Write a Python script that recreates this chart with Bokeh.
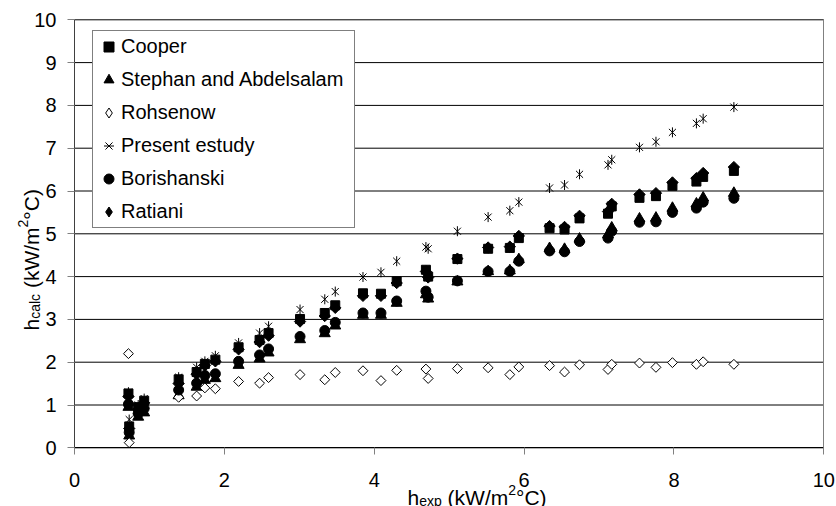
import math

from bokeh.embed import file_html
from bokeh.models import (ColumnDataSource, FixedTicker, Label, Legend, LegendItem,
                          LinearAxis, Range1d)
from bokeh.plotting import figure
from bokeh.resources import INLINE

# Experimental heat transfer coefficient (kW/m2 C)
h_exp = [0.72, 0.73, 0.85, 0.93, 1.39, 1.63, 1.74, 1.88, 2.19, 2.47, 2.59, 3.01,
         3.34, 3.48, 3.85, 4.09, 4.30, 4.69, 4.72, 5.11, 5.52, 5.81, 5.93, 6.34,
         6.54, 6.74, 7.12, 7.17, 7.54, 7.76, 7.98, 8.30, 8.39, 8.80]

# Calculated coefficients from each correlation (kW/m2 C)
cooper = [1.27, 0.50, 0.95, 1.10, 1.60, 1.77, 1.96, 2.06, 2.35, 2.52, 2.68, 3.01,
          3.15, 3.33, 3.61, 3.60, 3.89, 4.16, 4.00, 4.41, 4.65, 4.67, 4.90, 5.13,
          5.10, 5.36, 5.47, 5.64, 5.84, 5.88, 6.12, 6.22, 6.33, 6.47]
stephan = [0.95, 0.28, 0.72, 0.82, 1.22, 1.42, 1.58, 1.62, 1.93, 2.08, 2.22, 2.53,
           2.67, 2.85, 3.10, 3.10, 3.38, 3.58, 3.48, 3.88, 4.12, 4.14, 4.40, 4.66,
           4.64, 4.88, 4.98, 5.14, 5.35, 5.37, 5.60, 5.70, 5.84, 5.95]
rohsenow = [2.20, 0.12, 0.80, 0.92, 1.18, 1.21, 1.40, 1.38, 1.55, 1.51, 1.64, 1.71,
            1.59, 1.76, 1.80, 1.57, 1.81, 1.84, 1.62, 1.85, 1.87, 1.71, 1.89, 1.92,
            1.77, 1.94, 1.83, 1.95, 1.98, 1.88, 1.99, 1.95, 2.01, 1.95]
present = [1.30, 0.66, 1.00, 1.15, 1.65, 1.88, 2.02, 2.15, 2.45, 2.68, 2.84, 3.23,
           3.47, 3.65, 3.99, 4.10, 4.36, 4.69, 4.65, 5.06, 5.39, 5.54, 5.74, 6.07,
           6.14, 6.39, 6.61, 6.73, 7.02, 7.15, 7.37, 7.58, 7.69, 7.96]
borishanski = [1.02, 0.36, 0.80, 0.92, 1.35, 1.51, 1.69, 1.73, 2.02, 2.17, 2.31, 2.60,
               2.74, 2.93, 3.15, 3.15, 3.43, 3.66, 3.52, 3.90, 4.12, 4.12, 4.36, 4.60,
               4.58, 4.82, 4.90, 5.06, 5.27, 5.28, 5.50, 5.60, 5.74, 5.83]
ratiani = [1.20, 0.45, 0.90, 1.05, 1.50, 1.72, 1.92, 2.02, 2.30, 2.47, 2.62, 2.95,
           3.08, 3.27, 3.55, 3.55, 3.85, 4.12, 3.98, 4.42, 4.68, 4.70, 4.95, 5.18,
           5.16, 5.42, 5.52, 5.70, 5.92, 5.95, 6.20, 6.30, 6.42, 6.56]

series_labels = ["Cooper", "Stephan and Abdelsalam", "Rohsenow",
                 "Present estudy", "Borishanski", "Ratiani"]
x_ticks = [0, 2, 4, 6, 8, 10]
y_ticks = [0, 1, 2, 3, 4, 5, 6, 7, 8, 9, 10]
X_MIN, X_MAX = 0, 10
Y_MIN, Y_MAX = 0, 10

FONT = "Liberation Sans"

# Page geometry (pixels): the canvas is the plotting frame; the axes are pinned
# to the data box so the titles can sit in the margins without being clipped.
W, H = 836, 506
BOX_L, BOX_R, BOX_T, BOX_B = 74.0, 823.3, 19.3, 447.3
px_x = (BOX_R - BOX_L) / (X_MAX - X_MIN)
px_y = (BOX_B - BOX_T) / (Y_MAX - Y_MIN)
x_range = Range1d(X_MIN - BOX_L / px_x, X_MAX + (W - BOX_R) / px_x)
y_range = Range1d(Y_MIN - (H - BOX_B) / px_y, Y_MAX + BOX_T / px_y)

src = ColumnDataSource(dict(h_exp=h_exp, cooper=cooper, stephan=stephan,
                            rohsenow=rohsenow, present=present,
                            borishanski=borishanski, ratiani=ratiani))

p = figure(width=W, height=H, x_range=x_range, y_range=y_range,
           output_backend="svg", toolbar_location=None,
           min_border=0, min_border_left=0, min_border_right=0,
           min_border_top=0, min_border_bottom=0)
p.background_fill_color = "white"
p.border_fill_color = "white"
p.outline_line_color = None
p.grid.visible = False

# Horizontal grid lines across the data box
p.segment(x0=X_MIN, x1=X_MAX, y0=y_ticks, y1=y_ticks, line_color="black", line_width=1)

xa, ya = p.xaxis[0], p.yaxis[0]
xa.ticker = FixedTicker(ticks=x_ticks)
ya.ticker = FixedTicker(ticks=y_ticks)
xa.fixed_location = Y_MIN
ya.fixed_location = X_MIN
xa.bounds = (X_MIN, X_MAX)
ya.bounds = (Y_MIN, Y_MAX)
for ax in (xa, ya):
    ax.minor_tick_line_color = None
    ax.major_tick_in = 0
    ax.major_tick_out = 7
    ax.major_tick_line_color = "#808080"
    ax.major_label_text_font = FONT
    ax.major_label_text_font_size = "20px"
    ax.major_label_text_color = "black"
xa.axis_line_color = "black"
ya.axis_line_color = "#404040"
xa.major_label_standoff = 18
ya.major_label_standoff = 11

# Grey right-hand border of the data box
right = LinearAxis(fixed_location=X_MAX, bounds=(Y_MIN, Y_MAX),
                   ticker=FixedTicker(ticks=[]), axis_line_color="#808080",
                   major_tick_line_color=None, minor_tick_line_color=None,
                   major_label_text_font_size="0px")
p.add_layout(right, "right")

# Series, drawn in legend order
r_cooper = p.scatter("h_exp", "cooper", source=src, marker="square", size=9,
                     fill_color="black", line_color="black")
r_stephan = p.scatter("h_exp", "stephan", source=src, marker="triangle", size=11,
                      fill_color="black", line_color="black")
r_rohsenow = p.scatter("h_exp", "rohsenow", source=src, marker="square", size=7,
                       angle=math.pi / 4, fill_color="white", line_color="black",
                       line_width=1)
r_present_x = p.scatter("h_exp", "present", source=src, marker="x", size=10,
                        line_color="black", line_width=1)
r_present_v = p.scatter("h_exp", "present", source=src, marker="dash", size=10,
                        angle=math.pi / 2, line_color="black", line_width=1)
r_borishanski = p.scatter("h_exp", "borishanski", source=src, marker="circle", size=10,
                          fill_color="black", line_color="black")
r_ratiani = p.scatter("h_exp", "ratiani", source=src, marker="square", size=8,
                      angle=math.pi / 4, fill_color="black", line_color="black")

# Legend keys for the diamond series (legend keys are drawn unrotated);
# their single point is NaN, so they draw nothing inside the chart.
nan_src = ColumnDataSource(dict(x=[float("nan")], y=[float("nan")]))
k_rohsenow = p.scatter("x", "y", source=nan_src, marker="diamond", size=10,
                       fill_color="white", line_color="black")
k_ratiani = p.scatter("x", "y", source=nan_src, marker="diamond", size=10,
                      fill_color="black", line_color="black")

legend = Legend(items=[
    LegendItem(label=series_labels[0], renderers=[r_cooper]),
    LegendItem(label=series_labels[1], renderers=[r_stephan]),
    LegendItem(label=series_labels[2], renderers=[k_rohsenow]),
    LegendItem(label=series_labels[3], renderers=[r_present_x, r_present_v]),
    LegendItem(label=series_labels[4], renderers=[r_borishanski]),
    LegendItem(label=series_labels[5], renderers=[k_ratiani]),
], location=(92, H - 228))
legend.border_line_color = "black"
legend.border_line_width = 1
legend.background_fill_color = "white"
legend.background_fill_alpha = 1.0
legend.padding = 3
legend.spacing = 8
legend.margin = 0
legend.glyph_width = 25
legend.glyph_height = 25
legend.label_height = 20
legend.label_width = 230
legend.label_standoff = 0
legend.label_text_font = FONT
legend.label_text_font_size = "20px"
legend.label_text_color = "black"
p.add_layout(legend, "center")

# Axis titles with sub/superscripts, laid out piece by piece
ARIAL = {"h": 556, "e": 556, "x": 500, "p": 556, "c": 500, "a": 556, "l": 222,
         " ": 278, "(": 333, "k": 500, "W": 944, "/": 278, "m": 833, "2": 556,
         "°": 400, "C": 722, ")": 333}
MAIN, SMALL = 21, 14


def text_width(s, size):
    return sum(ARIAL[ch] for ch in s) * size / 1000.0


def add_title(pieces, x0, y0, vertical):
    pos = 0.0
    for txt, size, shift in pieces:
        # leading blanks would be collapsed in SVG, so turn them into an offset
        stripped = txt.lstrip(" ")
        pos += text_width(txt[:len(txt) - len(stripped)], size)
        if vertical:
            x, y, ang = x0 - shift, y0 + pos, math.pi / 2
        else:
            x, y, ang = x0 + pos, y0 + shift, 0.0
        p.add_layout(Label(x=x, y=y, x_units="screen", y_units="screen", text=stripped,
                           angle=ang, text_font=FONT, text_font_size=f"{size}px",
                           text_color="black", text_baseline="alphabetic",
                           text_align="left"))
        pos += text_width(stripped, size)


x_title = [("h", MAIN, 0), ("exp", SMALL, -3), (" (kW/m", MAIN, 0),
           ("2", SMALL, 8), ("°C)", MAIN, 0)]
y_title = [("h", MAIN, 0), ("calc", SMALL, -4), (" (kW/m", MAIN, 0),
           ("2", SMALL, 8), ("°C)", MAIN, 0)]
add_title(x_title, 407, 9, vertical=False)
add_title(y_title, 30.5, H - 330, vertical=True)

open("out.html", "w").write(file_html(p, INLINE))
